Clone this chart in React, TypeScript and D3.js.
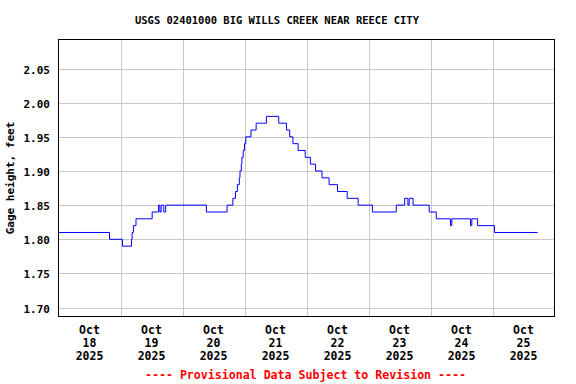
import React from "react";
import * as d3 from "d3";

const TITLE = "USGS 02401000 BIG WILLS CREEK NEAR REECE CITY";
const Y_LABEL = "Gage height, feet";
const FOOTER = "---- Provisional Data Subject to Revision ----";

// hours since 2025-10-18 00:00 at which the gage height changes
const changeHours = [
  0, 19.75, 24.75, 28.25, 28.5, 29.0, 30.0, 36.25, 38.75, 39.25, 39.75, 40.75, 41.5,
  57.25, 65.25, 67.5, 68.5, 69.25, 70.0, 70.25, 70.75, 71.0, 71.5, 72.0, 72.5, 74.5,
  76.5, 80.5, 85.25, 88.25, 89.5, 90.75, 92.75, 95.5, 97.5, 99.5, 102.0, 104.75, 108.0,
  111.75, 116.0, 121.5, 130.75, 134.0, 135.25, 135.75, 137.25, 143.5, 146.25, 151.75,
  152.25, 159.5, 160.0, 162.25, 168.75, 185.5,
];
const gageValues = [
  1.81, 1.8, 1.79, 1.8, 1.81, 1.82, 1.83, 1.84, 1.85, 1.84, 1.85, 1.84, 1.85,
  1.84, 1.85, 1.86, 1.87, 1.88, 1.89, 1.9, 1.91, 1.92, 1.93, 1.94, 1.95, 1.96,
  1.97, 1.98, 1.97, 1.96, 1.95, 1.94, 1.93, 1.92, 1.91, 1.9, 1.89, 1.88, 1.87,
  1.86, 1.85, 1.84, 1.85, 1.86, 1.85, 1.86, 1.85, 1.84, 1.83, 1.82,
  1.83, 1.82, 1.83, 1.82, 1.81, 1.81,
];

const yTicks = [1.7, 1.75, 1.8, 1.85, 1.9, 1.95, 2.0, 2.05];
const tickDays = [18, 19, 20, 21, 22, 23, 24, 25];
const tickMonth = "Oct";
const tickYear = "2025";

const W = 576;
const H = 384;
const L = 58.5, R = 554.5, T = 39.5, B = 316.5;
const FONT = "'DejaVu Sans Mono', 'Liberation Mono', monospace";

const start = new Date(Date.UTC(2025, 9, 18, 0, 0));
const end = new Date(Date.UTC(2025, 9, 26, 0, 0));
const toDate = (h: number) => new Date(start.getTime() + h * 3600 * 1000);

export default function App() {
  const x = d3.scaleUtc().domain([start, end]).range([L, R]);
  const y = d3.scaleLinear().domain([1.687, 2.0925]).range([B, T]);

  const pts = changeHours.map((h, i) => ({ t: toDate(h), v: gageValues[i] }));
  const line = d3
    .line<{ t: Date; v: number }>()
    .x((d) => x(d.t))
    .y((d) => y(d.v))
    .curve(d3.curveStepAfter);

  const midnights = tickDays.slice(1).map((d) => new Date(Date.UTC(2025, 9, d, 0, 0)));
  const noons = tickDays.map((d) => new Date(Date.UTC(2025, 9, d, 12, 0)));

  return (
    <div style={{ position: "fixed", left: 0, top: 0 }}>
      <svg width={W} height={H} style={{ display: "block", background: "#fff" }}>
        <rect x={0} y={0} width={W} height={H} fill="#fff" />
        {/* grid */}
        {yTicks.map((v) => (
          <line
            key={"gy" + v}
            x1={L}
            x2={R}
            y1={Math.round(y(v)) + 0.5}
            y2={Math.round(y(v)) + 0.5}
            stroke="#c8c8c8"
            strokeWidth={1}
          />
        ))}
        {midnights.map((d, i) => (
          <line
            key={"gx" + i}
            x1={Math.round(x(d)) + 0.5}
            x2={Math.round(x(d)) + 0.5}
            y1={T}
            y2={B}
            stroke="#c8c8c8"
            strokeWidth={1}
          />
        ))}
        {/* data */}
        <path d={line(pts) || ""} fill="none" stroke="#0000ff" strokeWidth={1} />
        {/* frame */}
        <rect x={L} y={T} width={R - L} height={B - T} fill="none" stroke="#000" strokeWidth={1} />
        {/* y tick labels */}
        {yTicks.map((v) => (
          <text
            key={"ty" + v}
            x={50}
            y={Math.round(y(v)) + 4.5}
            textAnchor="end"
            fontFamily={FONT}
            fontWeight="bold"
            fontSize={11}
            fill="#000"
          >
            {v.toFixed(2)}
          </text>
        ))}
        {/* x tick labels */}
        {noons.map((d, i) => (
          <text
            key={"tx" + i}
            textAnchor="middle"
            fontFamily={FONT}
            fontWeight="bold"
            fontSize={11.5}
            fill="#000"
          >
            <tspan x={x(d)} y={334}>{tickMonth}</tspan>
            <tspan x={x(d)} y={347}>{String(tickDays[i])}</tspan>
            <tspan x={x(d)} y={360}>{tickYear}</tspan>
          </text>
        ))}
        {/* y label */}
        <text
          transform={`translate(14,${(T + B) / 2}) rotate(-90)`}
          textAnchor="middle"
          fontFamily={FONT}
          fontWeight="bold"
          fontSize={11}
          fill="#000"
        >
          {Y_LABEL}
        </text>
        {/* title */}
        <text
          x={135}
          y={24}
          textLength={284}
          lengthAdjust="spacingAndGlyphs"
          fontFamily={FONT}
          fontWeight="bold"
          fontSize={10.8}
          fill="#000"
        >
          {TITLE}
        </text>
        {/* footer */}
        <text
          x={145}
          y={379}
          textLength={321}
          lengthAdjust="spacingAndGlyphs"
          fontFamily={FONT}
          fontWeight="bold"
          fontSize={12}
          fill="#ff0000"
        >
          {FOOTER}
        </text>
      </svg>
    </div>
  );
}
